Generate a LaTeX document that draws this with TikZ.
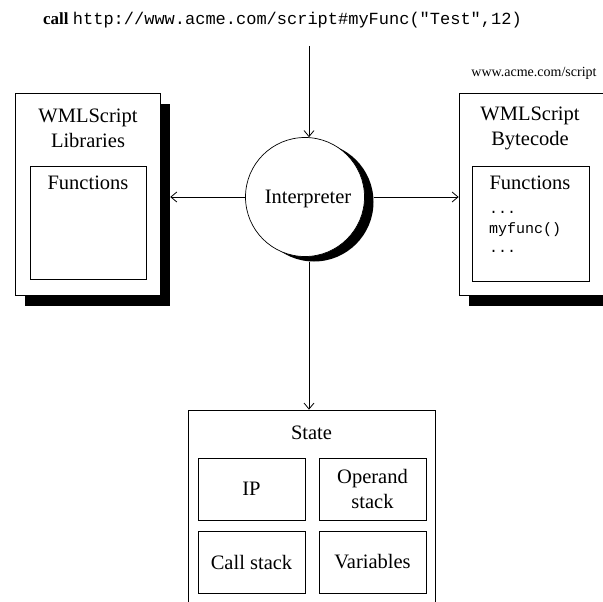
\documentclass[tikz,border=0pt]{standalone}
\usepackage{fontspec}
\setmainfont{Liberation Serif}
\setmonofont{Liberation Mono}
\usetikzlibrary{arrows.meta}
\tikzset{
  box/.style={draw, rectangle, fill=white, inner sep=0pt, line width=0.7pt, align=center},
  shadowbox/.style={fill=black, rectangle, inner sep=0pt},
  txt/.style={inner sep=0pt, align=center},
  flow/.style={-{Straight Barb[length=6pt,width=10pt]}, line width=0.8pt}
}
\begin{document}
\begin{tikzpicture}[x=1pt, y=-1pt, font=\fontsize{20.5}{25}\selectfont]
  \clip (0,0) rectangle (603,602);
  % request
  \node[txt, font=\fontsize{17}{20}\selectfont] (call) at (282.5,20)
    {\textbf{call} \texttt{http://www.acme.com/script\#myFunc("Test",12)}};
  \coordinate (callend) at (309,46);
  % libraries
  \node[shadowbox, minimum width=145pt, minimum height=202pt] (libsshadow) at (97.5,205) {};
  \node[box, minimum width=145pt, minimum height=202pt] (libs) at (87.5,194) {};
  \node[box, minimum width=116pt, minimum height=113pt] (libsfuncs) at (88,222.5) {};
  \node[txt] (libstitle) at (88,128) {WMLScript\\Libraries};
  \node[txt] (libsfuncstitle) at (88,183) {Functions};
  % bytecode
  \node[txt, font=\fontsize{14}{17}\selectfont] (url) at (534,73) {www.acme.com/script};
  \node[shadowbox, minimum width=145pt, minimum height=202pt] (bytecodeshadow) at (541.5,205) {};
  \node[box, minimum width=145pt, minimum height=202pt] (bytecode) at (531.5,194) {};
  \node[box, minimum width=117pt, minimum height=115pt] (bytecodefuncs) at (530.5,223.5) {};
  \node[txt] (bytecodetitle) at (530,128) {WMLScript\\Bytecode};
  \node[txt] (bytecodefuncstitle) at (530,183) {Functions};
  \node[txt, anchor=west, align=left, font=\ttfamily\fontsize{15}{19.5}\selectfont] (code) at (489,232)
    {...\\myfunc()\\...};
  % interpreter
  \node[circle, fill=black, minimum size=119pt, inner sep=0pt] (interpshadow) at (314,202) {};
  \node[circle, draw, fill=white, minimum size=119pt, inner sep=0pt, line width=0.7pt] (interp) at (305,197) {};
  \node[txt] (interptext) at (308,199) {Interpreter};
  % state
  \node[box, minimum width=247pt, minimum height=220pt] (state) at (311.5,520) {};
  \node[txt] (statetitle) at (311.5,433) {State};
  \node[box, minimum width=107pt, minimum height=62pt] (ip) at (251.5,489) {IP};
  \node[box, minimum width=107pt, minimum height=62pt] (operand) at (372.5,489) {Operand\\stack};
  \node[box, minimum width=107pt, minimum height=62pt] (callstack) at (251.5,562) {Call stack};
  \node[box, minimum width=107pt, minimum height=62pt] (vars) at (372.5,562) {Variables};
  % connections
  \draw[flow] (callend) -- (callend |- interp.north);
  \draw[flow] (interp.west) -- (interp.west -| libsshadow.east);
  \draw[flow] (interp.east -| interpshadow.east) -- (interp.east -| bytecode.west);
  \draw[flow] (callend |- interpshadow.south) -- (callend |- state.north);
\end{tikzpicture}
\end{document}
